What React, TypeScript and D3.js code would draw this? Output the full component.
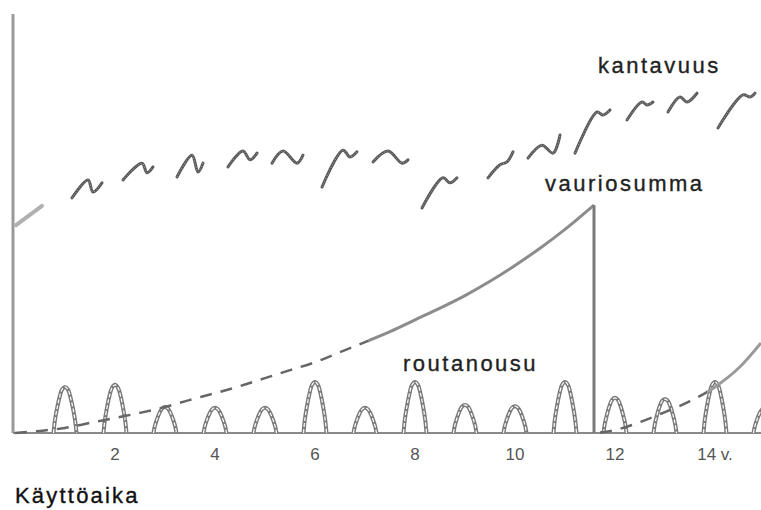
import React from 'react';
import * as d3 from 'd3';

const W = 761;
const H = 510;

// x axis: service time in years
const tickYears = [2, 4, 6, 8, 10, 12, 14];
const tickLabels = ['2', '4', '6', '8', '10', '12', '14 v.'];

// frost heave (routanousu), one peak per winter
const heaveYears = [1, 2, 3, 4, 5, 6, 7, 8, 9, 10, 11, 12, 13, 14, 15];
const heaveValues = [11.0, 11.5, 6.2, 6.0, 6.0, 12.2, 6.0, 12.2, 6.7, 6.4, 12.2, 8.4, 8.1, 12.2, 6.0];

// damage sum (vauriosumma), first cycle until renewal
const damage1Years = [0, 0.5, 1, 1.5, 2, 2.5, 3, 3.5, 4, 4.5, 5, 5.5, 6, 6.5, 7, 7.5, 8, 8.5, 9, 9.5, 10, 10.5, 11, 11.58];
const damage1Values = [0, 0.5, 1.2, 2.4, 3.6, 4.8, 6.2, 7.9, 9.5, 11.2, 13.1, 15.0, 16.9, 19.3, 21.7, 24.2, 27.0, 29.8, 32.8, 36.2, 40.0, 44.1, 48.6, 54.4];
const damage1SolidFrom = 7.06;
// second cycle after renewal
const damage2Years = [11.58, 12, 12.5, 13, 13.5, 14, 14.5, 14.92];
const damage2Values = [0, 0.7, 2.6, 5.0, 7.6, 11.0, 15.8, 21.5];
const damage2SolidFrom = 13.85;
const renewalYear = 11.58;

// bearing capacity (kantavuus), yearly seasonal segments [year, value]
const capacitySegments: [number, number][][] = [
  [[0.02, 49.6], [0.54, 54.2]],
  [[1.14, 56.1], [1.46, 60.4], [1.56, 57.5], [1.74, 59.7]],
  [[2.16, 60.4], [2.54, 64.4], [2.64, 62.1], [2.76, 63.5]],
  [[3.24, 61.1], [3.54, 66.3], [3.66, 62.3], [3.76, 64.4]],
  [[4.26, 63.5], [4.56, 67.3], [4.70, 65.2], [4.84, 66.8]],
  [[5.14, 64.4], [5.36, 67.3], [5.64, 64.4], [5.76, 66.3]],
  [[6.14, 58.7], [6.56, 67.5], [6.70, 65.9], [6.84, 67.1]],
  [[7.16, 64.7], [7.46, 67.3], [7.74, 64.4], [7.86, 65.2]],
  [[8.14, 53.7], [8.56, 60.9], [8.70, 59.7], [8.84, 60.9]],
  [[9.46, 60.9], [9.70, 64.0], [9.84, 64.7], [9.96, 67.1]],
  [[10.26, 65.6], [10.54, 68.7], [10.76, 66.8], [10.90, 71.1]],
  [[11.20, 66.8], [11.64, 76.6], [11.76, 75.9], [11.90, 77.1]],
  [[12.24, 74.7], [12.54, 79.0], [12.64, 78.3], [12.76, 79.0]],
  [[13.06, 76.6], [13.30, 80.2], [13.44, 79.0], [13.64, 81.1]],
  [[14.06, 72.8], [14.56, 80.7], [14.70, 80.2], [14.80, 81.1]],
];

// bell outline used for each frost heave mark (relative half-width, relative height)
const archTemplate: [number, number][] = [
  [-0.23, 0], [-0.205, 0.25], [-0.165, 0.5], [-0.115, 0.75], [-0.06, 0.94], [0, 1],
  [0.06, 0.94], [0.115, 0.75], [0.165, 0.5], [0.205, 0.25], [0.23, 0],
];

const FONT = '"Liberation Sans", Arial, sans-serif';

export default function App() {
  const x = d3.scaleLinear().domain([0, 15]).range([15, 765]);
  const y = d3.scaleLinear().domain([0, 100]).range([433, 14]);

  const smooth = d3
    .line<[number, number]>()
    .x((d) => x(d[0]))
    .y((d) => y(d[1]))
    .curve(d3.curveMonotoneX);

  const squiggle = d3
    .line<[number, number]>()
    .x((d) => x(d[0]))
    .y((d) => y(d[1]))
    .curve(d3.curveCatmullRom.alpha(0.5));

  const damage1: [number, number][] = damage1Years.map((t, i) => [t, damage1Values[i]]);
  const damage2: [number, number][] = damage2Years.map((t, i) => [t, damage2Values[i]]);

  const archPath = (t: number, h: number) =>
    d3
      .line<[number, number]>()
      .x((d) => x(t + d[0]))
      .y((d) => y(d[1] * h))
      .curve(d3.curveCatmullRom.alpha(0.5))(archTemplate) as string;

  const x0 = 13;
  const baseY = y(0);
  const textStyle = { fontFamily: FONT, fontSize: 22, letterSpacing: 2.5, fill: '#222', stroke: '#222', strokeWidth: 0.35 };

  return (
    <svg width={W} height={H} style={{ position: 'absolute', left: 0, top: 0, background: '#fff' }}>
      <defs>
        <clipPath id="d1dash"><rect x={0} y={0} width={x(damage1SolidFrom)} height={H} /></clipPath>
        <clipPath id="d1solid"><rect x={x(damage1SolidFrom)} y={0} width={W} height={H} /></clipPath>
        <clipPath id="d2dash"><rect x={0} y={0} width={x(damage2SolidFrom)} height={H} /></clipPath>
        <clipPath id="d2solid"><rect x={x(damage2SolidFrom)} y={0} width={W} height={H} /></clipPath>
      </defs>

      {/* axes */}
      <line x1={x0} y1={14} x2={x0} y2={baseY} stroke="#9a9a9a" strokeWidth={3} />
      <line x1={x0} y1={baseY} x2={W} y2={baseY} stroke="#8a8a8a" strokeWidth={2} />

      {/* frost heave bells */}
      {heaveYears.map((t, i) => (
        <g key={'h' + i}>
          <path d={archPath(t, heaveValues[i])} fill="none" stroke="#7a7a7a" strokeWidth={4} strokeLinejoin="round" />
          <path d={archPath(t, heaveValues[i])} fill="none" stroke="#fff" strokeWidth={1.2} strokeDasharray="4 2" />
        </g>
      ))}

      {/* damage sum */}
      <path d={smooth(damage1) as string} fill="none" stroke="#666" strokeWidth={2.5} strokeDasharray="12 9" clipPath="url(#d1dash)" />
      <path d={smooth(damage1) as string} fill="none" stroke="#8c8c8c" strokeWidth={3} clipPath="url(#d1solid)" />
      <line x1={x(renewalYear)} y1={y(damage1Values[damage1Values.length - 1])} x2={x(renewalYear)} y2={baseY} stroke="#7a7a7a" strokeWidth={3} />
      <path d={smooth(damage2) as string} fill="none" stroke="#666" strokeWidth={2.5} strokeDasharray="12 9" strokeDashoffset={-6} clipPath="url(#d2dash)" />
      <path d={smooth(damage2) as string} fill="none" stroke="#9a9a9a" strokeWidth={3} clipPath="url(#d2solid)" />

      {/* bearing capacity */}
      {capacitySegments.map((seg, i) => (
        <g key={'c' + i}>
          <path
            d={squiggle(seg) as string}
            fill="none"
            stroke={i === 0 ? '#b0b0b0' : '#5a5a5a'}
            strokeWidth={i === 0 ? 4 : 3}
            strokeLinecap="round"
            strokeLinejoin="round"
          />
          {i > 0 && (
            <path d={squiggle(seg) as string} fill="none" stroke="#bbb" strokeWidth={0.8} strokeDasharray="1 2" />
          )}
        </g>
      ))}

      {/* tick labels */}
      {tickYears.map((t, i) => (
        <text key={'t' + i} x={x(t)} y={460} textAnchor="middle" fontFamily={FONT} fontSize={17} fill="#555">
          {tickLabels[i]}
        </text>
      ))}

      {/* series labels */}
      <text x={598} y={73} {...textStyle}>kantavuus</text>
      <text x={545} y={191} {...textStyle}>vauriosumma</text>
      <text x={403} y={371} {...textStyle}>routanousu</text>
      <text x={15} y={503} {...textStyle} letterSpacing={2.2} fill="#111" stroke="#111">Käyttöaika</text>
    </svg>
  );
}
